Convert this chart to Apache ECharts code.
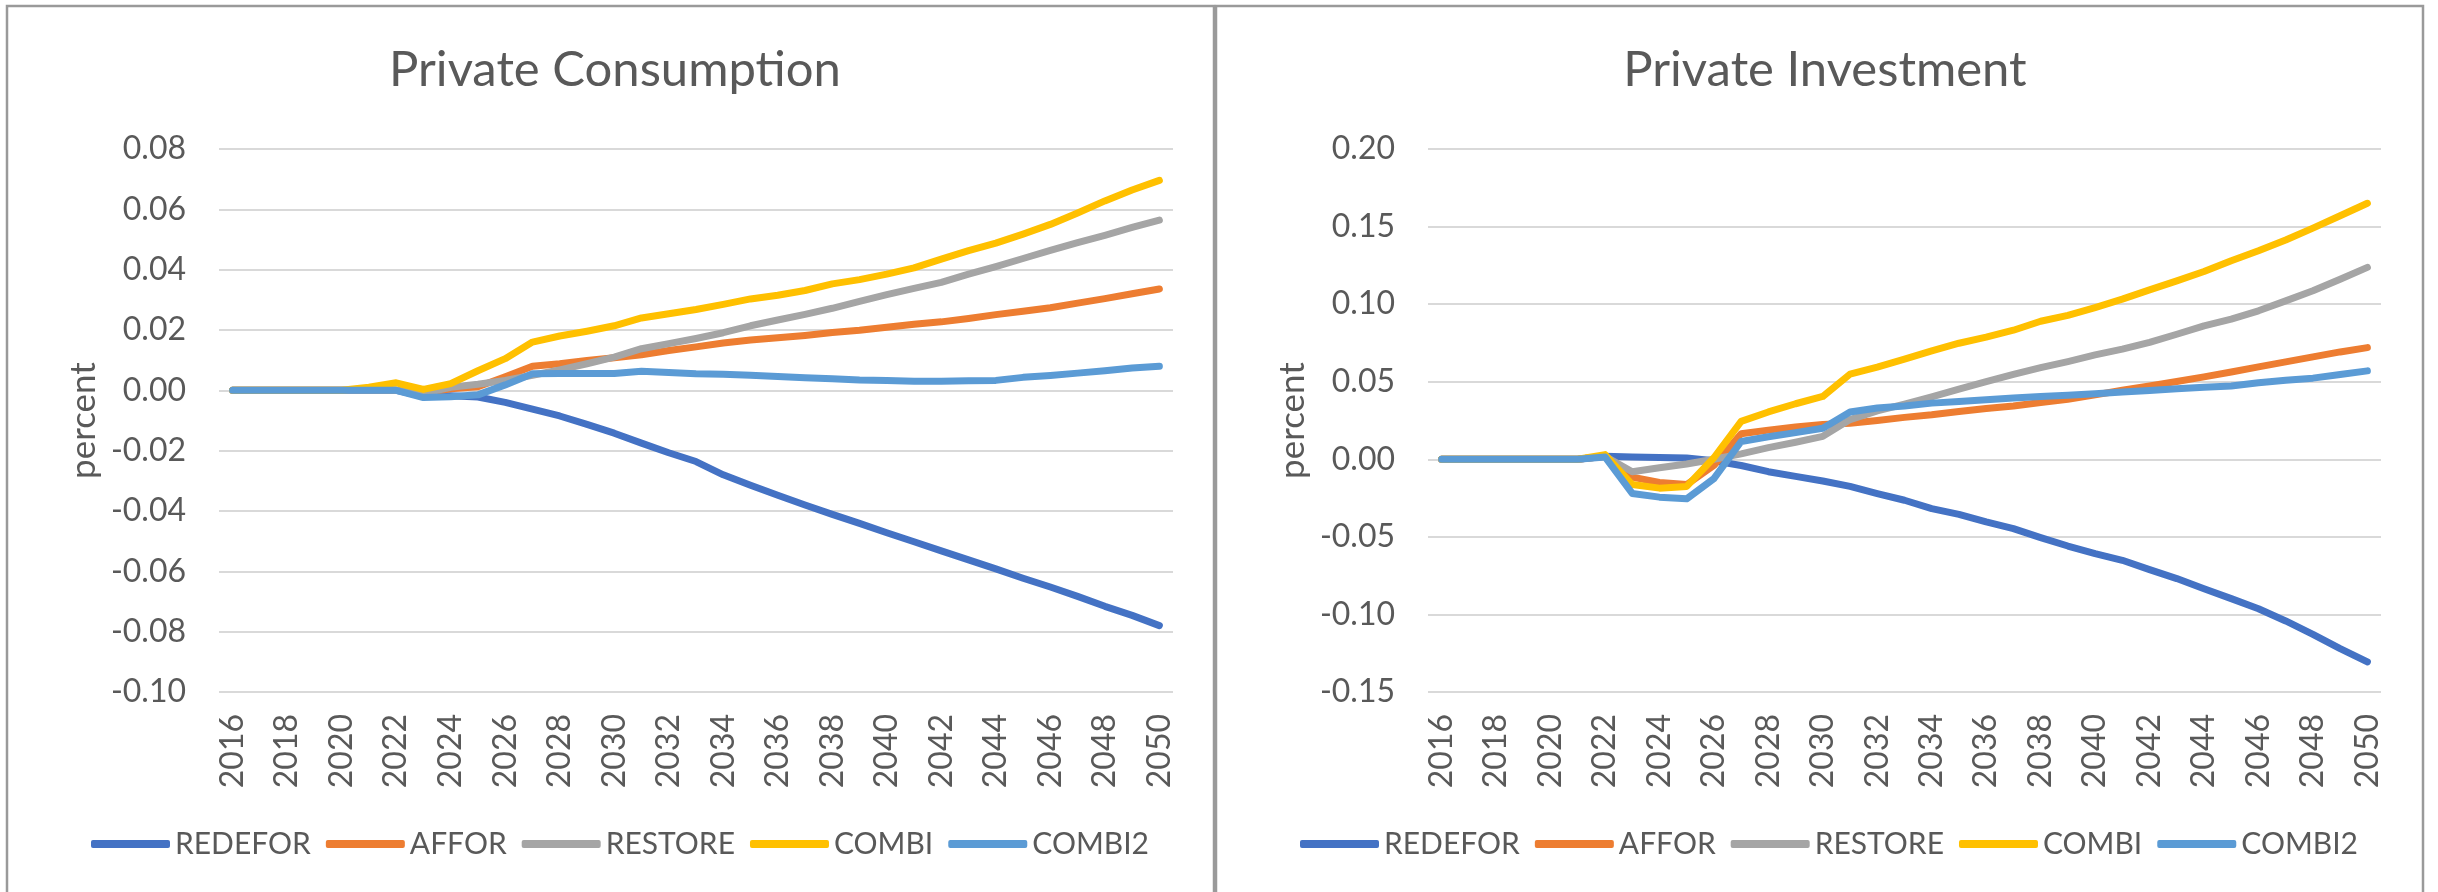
<!DOCTYPE html>
<html>
<head>
<meta charset="utf-8">
<script src="https://cdn.jsdelivr.net/npm/echarts@6/dist/echarts.min.js"></script>
<style>
  html, body { margin: 0; padding: 0; background: #ffffff; }
  #chart { width: 2438px; height: 892px; }
</style>
</head>
<body>
<div id="chart"></div>
<script>
// Years on the category axis
const years = ['2016','2017','2018','2019','2020','2021','2022','2023','2024','2025','2026','2027',
  '2028','2029','2030','2031','2032','2033','2034','2035','2036','2037','2038','2039','2040','2041',
  '2042','2043','2044','2045','2046','2047','2048','2049','2050'];

const seriesNames = ['REDEFOR', 'AFFOR', 'RESTORE', 'COMBI', 'COMBI2'];
const seriesColors = ['#4472C4', '#ED7D31', '#A5A5A5', '#FFC000', '#5B9BD5'];

// Private consumption, percent deviation
const redeforCons = [0,0,0,0,0,0,0,-0.0020,-0.0018,-0.0022,-0.0040,-0.0062,-0.0085,-0.0113,-0.0142,
  -0.0175,-0.0207,-0.0236,-0.0280,-0.0315,-0.0348,-0.0380,-0.0411,-0.0441,-0.0472,-0.0502,-0.0532,
  -0.0562,-0.0592,-0.0623,-0.0652,-0.0683,-0.0716,-0.0746,-0.0780];
const afforCons = [0,0,0,0,0,0,0,-0.0010,0.0005,0.0012,0.0045,0.0080,0.0088,0.0099,0.0108,0.0118,
  0.0132,0.0144,0.0157,0.0167,0.0174,0.0182,0.0192,0.0199,0.0209,0.0219,0.0227,0.0238,0.0251,0.0262,
  0.0274,0.0289,0.0304,0.0320,0.0336];
const restoreCons = [0,0,0,0,0,0,0,-0.0010,0.0010,0.0020,0.0033,0.0050,0.0068,0.0088,0.0110,0.0138,
  0.0155,0.0172,0.0191,0.0214,0.0233,0.0252,0.0272,0.0295,0.0317,0.0338,0.0358,0.0385,0.0410,0.0437,
  0.0464,0.0490,0.0514,0.0540,0.0564];
const combiCons = [0,0,0,0,0,0.0010,0.0025,0.0003,0.0022,0.0065,0.0105,0.0160,0.0180,0.0196,0.0214,
  0.0240,0.0254,0.0268,0.0285,0.0303,0.0315,0.0331,0.0353,0.0367,0.0385,0.0406,0.0435,0.0463,0.0488,
  0.0518,0.0550,0.0588,0.0628,0.0664,0.0696];
const combi2Cons = [0,0,0,0,0,0,0,-0.0024,-0.0021,-0.0015,0.0018,0.0055,0.0056,0.0056,0.0056,0.0063,
  0.0059,0.0055,0.0053,0.0050,0.0046,0.0042,0.0038,0.0034,0.0033,0.0030,0.0030,0.0032,0.0033,0.0043,
  0.0049,0.0057,0.0065,0.0074,0.0080];

// Private investment, percent deviation
const redeforInv = [0,0,0,0,0,0,0.0020,0.0015,0.0012,0.0008,-0.0010,-0.0040,-0.0080,-0.0110,-0.0140,
  -0.0175,-0.0221,-0.0264,-0.0318,-0.0355,-0.0404,-0.0447,-0.0505,-0.0559,-0.0608,-0.0651,-0.0711,
  -0.0769,-0.0834,-0.0898,-0.0963,-0.1042,-0.1128,-0.1220,-0.1306];
const afforInv = [0,0,0,0,0,0,0.0020,-0.0115,-0.0150,-0.0163,-0.0040,0.0165,0.0188,0.0208,0.0225,
  0.0232,0.0250,0.0270,0.0287,0.0308,0.0327,0.0344,0.0366,0.0387,0.0415,0.0445,0.0473,0.0501,0.0531,
  0.0563,0.0596,0.0628,0.0660,0.0692,0.0720];
const restoreInv = [0,0,0,0,0,0,0.0020,-0.0080,-0.0055,-0.0030,0.0000,0.0035,0.0075,0.0110,0.0148,
  0.0256,0.0312,0.0355,0.0402,0.0452,0.0501,0.0548,0.0591,0.0630,0.0673,0.0710,0.0753,0.0806,0.0860,
  0.0903,0.0957,0.1021,0.1086,0.1161,0.1237];
const combiInv = [0,0,0,0,0,0,0.0030,-0.0163,-0.0186,-0.0175,0.0010,0.0244,0.0305,0.0358,0.0405,
  0.0549,0.0594,0.0645,0.0699,0.0748,0.0787,0.0832,0.0890,0.0928,0.0978,0.1032,0.1092,0.1150,0.1210,
  0.1280,0.1344,0.1413,0.1490,0.1570,0.1650];
const combi2Inv = [0,0,0,0,0,0,0.0015,-0.0220,-0.0244,-0.0255,-0.0125,0.0115,0.0145,0.0172,0.0200,
  0.0305,0.0330,0.0344,0.0362,0.0373,0.0384,0.0395,0.0405,0.0413,0.0422,0.0433,0.0444,0.0455,0.0464,
  0.0473,0.0493,0.0509,0.0523,0.0547,0.0570];

const consData = [redeforCons, afforCons, restoreCons, combiCons, combi2Cons];
const invData = [redeforInv, afforInv, restoreInv, combiInv, combi2Inv];

const textColor = '#595959';
const font = 'Lato';

const chart = echarts.init(document.getElementById('chart'), null, { renderer: 'canvas' });

function xAxisFor(idx) {
  return {
    type: 'category', gridIndex: idx, data: years, boundaryGap: true,
    axisLine: { show: false }, axisTick: { show: false }, splitLine: { show: false },
    axisLabel: { rotate: 90, interval: 1, margin: 22, fontSize: 32, color: textColor, fontFamily: font }
  };
}
function yAxisFor(idx, min, max, step) {
  return {
    type: 'value', gridIndex: idx, min: min, max: max, interval: step,
    name: 'percent', nameLocation: 'middle', nameGap: 118, nameRotate: 90,
    nameTextStyle: { fontSize: 35, color: textColor, fontFamily: font },
    axisLine: { show: false }, axisTick: { show: false },
    axisLabel: {
      margin: 33, fontSize: 32, color: textColor, fontFamily: font,
      formatter: v => (Math.abs(v) < 1e-9 ? 0 : v).toFixed(2)
    },
    splitLine: { show: true, lineStyle: { color: '#D9D9D9', width: 2 } }
  };
}
function legendAt(left) {
  return {
    left: left, top: 824, orient: 'horizontal',
    icon: 'roundRect', itemWidth: 79, itemHeight: 8, itemGap: 15,
    data: seriesNames,
    textStyle: { fontSize: 30, color: textColor, fontFamily: font }
  };
}

const series = [];
[consData, invData].forEach((group, g) => {
  group.forEach((vals, i) => {
    series.push({
      name: seriesNames[i], type: 'line', xAxisIndex: g, yAxisIndex: g,
      data: vals, symbol: 'none', smooth: false,
      color: seriesColors[i],
      lineStyle: { width: 7, color: seriesColors[i], cap: 'round', join: 'round' },
      emphasis: { disabled: true }
    });
  });
});

chart.setOption({
  animation: false,
  backgroundColor: '#ffffff',
  textStyle: { fontFamily: font },
  title: [
    { text: 'Private Consumption', left: 610, top: 41, textAlign: 'center',
      textStyle: { fontSize: 49, fontWeight: 'normal', color: textColor, fontFamily: font } },
    { text: 'Private Investment', left: 1820, top: 41, textAlign: 'center',
      textStyle: { fontSize: 49, fontWeight: 'normal', color: textColor, fontFamily: font } }
  ],
  grid: [
    { left: 219, top: 149, width: 954, height: 543 },
    { left: 1428, top: 149, width: 953, height: 543 }
  ],
  xAxis: [xAxisFor(0), xAxisFor(1)],
  yAxis: [yAxisFor(0, -0.10, 0.08, 0.02), yAxisFor(1, -0.15, 0.20, 0.05)],
  legend: [legendAt(86), legendAt(1295)],
  graphic: [
    { type: 'rect', shape: { x: 7, y: 6, width: 1207, height: 900 },
      style: { fill: null, stroke: '#9a9a9a', lineWidth: 2.5 }, silent: true },
    { type: 'rect', shape: { x: 1216, y: 6, width: 1207, height: 900 },
      style: { fill: null, stroke: '#9a9a9a', lineWidth: 2.5 }, silent: true }
  ],
  series: series
});
</script>
</body>
</html>
